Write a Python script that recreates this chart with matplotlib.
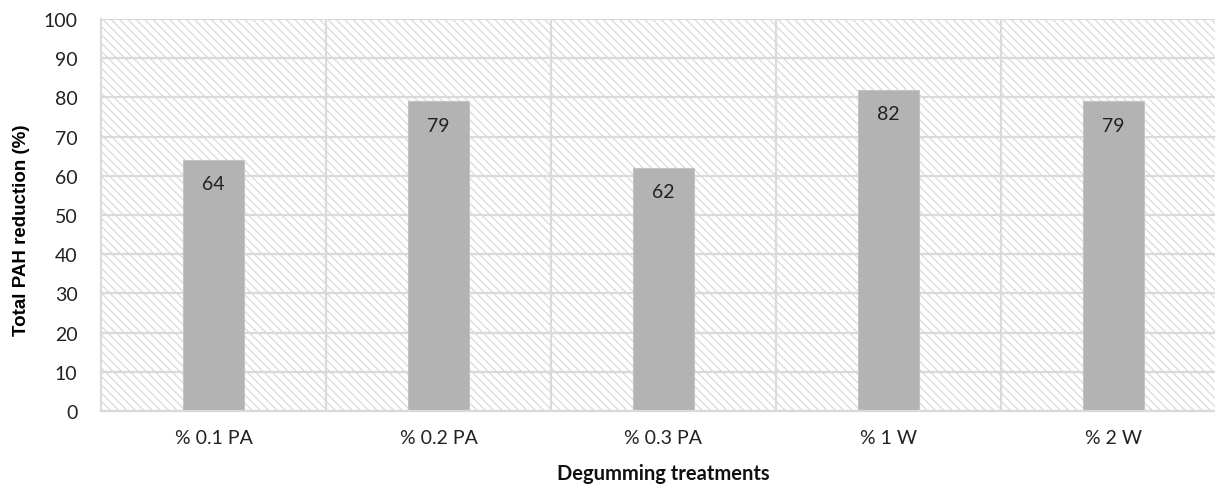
import matplotlib
matplotlib.use("Agg")
import matplotlib.pyplot as plt
from matplotlib.patches import Rectangle

categories = ["% 0.1 PA", "% 0.2 PA", "% 0.3 PA", "% 1 W", "% 2 W"]
reduction = [64, 79, 62, 82, 79]
y_ticks = [0, 10, 20, 30, 40, 50, 60, 70, 80, 90, 100]

plt.rcParams["font.family"] = ["Lato", "DejaVu Sans"]
plt.rcParams["hatch.linewidth"] = 0.9
plt.rcParams["hatch.color"] = "#dadada"

W, H, DPI = 1215, 485, 100
fig = plt.figure(figsize=(W / DPI, H / DPI), dpi=DPI)
left, right, top, bottom = 101, 1215, 20, 412
ax = fig.add_axes([left / W, 1 - bottom / H, (right - left) / W, (bottom - top) / H])

xpos = list(range(len(categories)))
ax.set_xlim(-0.5, 4.5 - 11 / 225)
ax.set_ylim(0, 100)

# hatched plot background
ax.add_patch(Rectangle((0, 0), 1, 1, transform=ax.transAxes, facecolor="white",
                       edgecolor="#dadada", hatch="\\\\\\\\", linewidth=0, zorder=0))

grid_color = "#dadada"
ax.set_yticks(y_ticks)
ax.set_xticks(xpos)
ax.set_xticks([0.5, 1.5, 2.5, 3.5], minor=True)
ax.grid(axis="y", which="major", color=grid_color, linewidth=1.6, zorder=1)
ax.grid(axis="x", which="minor", color=grid_color, linewidth=1.6, zorder=1)
ax.set_axisbelow(True)

bars = ax.bar(xpos, reduction, width=0.27, color="#b3b3b3", edgecolor="#c4c4c4",
              linewidth=0.8, zorder=2)
for x, v in zip(xpos, reduction):
    ax.annotate(f"{v:.0f}", (x, v), xytext=(0, -11), textcoords="offset points",
                ha="center", va="top", fontsize=14, color="#222222", zorder=3)

ax.set_xticklabels(categories, fontsize=14, color="#222222")
ax.set_yticklabels([str(t) for t in y_ticks], fontsize=14, color="#222222")
ax.tick_params(axis="both", which="both", length=0)
ax.tick_params(axis="x", pad=13)
ax.tick_params(axis="y", pad=17)

for s in ["top", "right"]:
    ax.spines[s].set_visible(False)
ax.spines["left"].set_color(grid_color)
ax.spines["left"].set_linewidth(1.6)
ax.spines["bottom"].set_color(grid_color)
ax.spines["bottom"].set_linewidth(1.6)

ax.set_ylabel("Total PAH reduction (%)", fontsize=13.5, fontweight="bold",
              family=["Liberation Sans", "DejaVu Sans"], va="center")
ax.yaxis.set_label_coords(-(left - 22) / (right - left), (bottom - 230) / (bottom - top))
ax.set_xlabel("Degumming treatments", fontsize=14.5, fontweight="bold", color="#111111",
              va="center")
ax.xaxis.set_label_coords((663 - left) / (right - left), -(474 - bottom) / (bottom - top))

fig.savefig("out.png", dpi=DPI)
